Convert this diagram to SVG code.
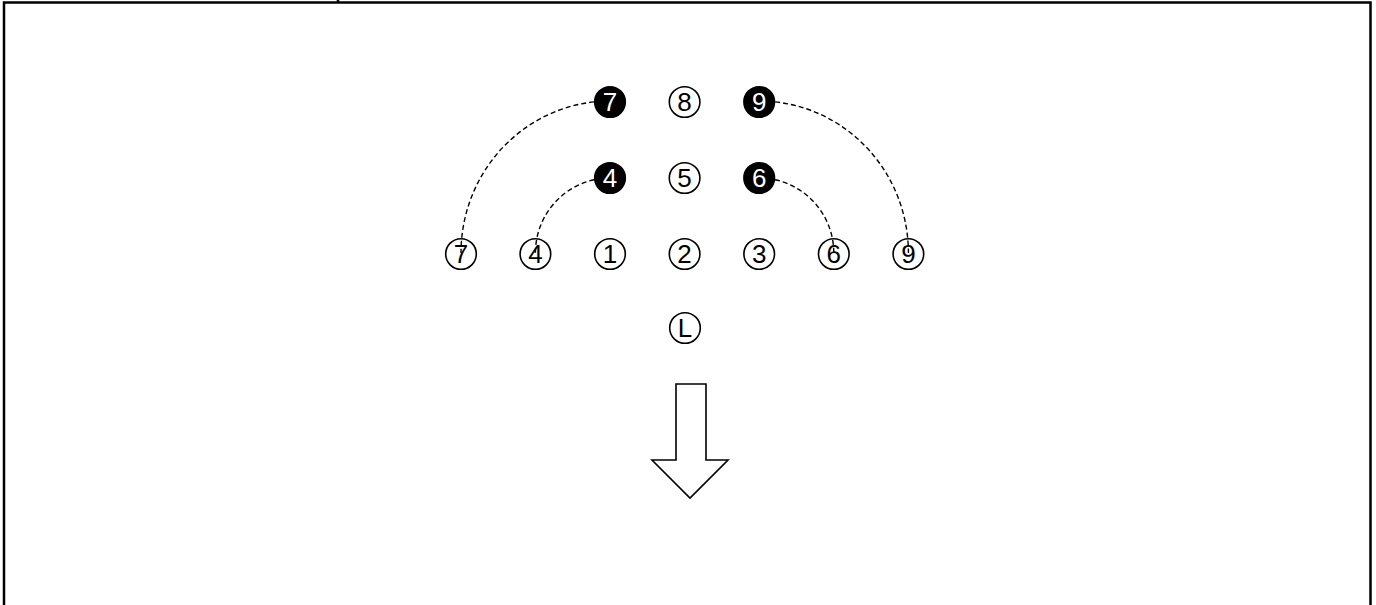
<svg xmlns="http://www.w3.org/2000/svg" width="1376" height="605" viewBox="0 0 1376 605">
<style>
.frame{stroke:#000;stroke-width:2.5;fill:none}
.arc{stroke:#000;stroke-width:1.4;fill:none;stroke-dasharray:5 3}
.o{fill:none;stroke:#000;stroke-width:1.6}
.b{fill:#000;stroke:#000;stroke-width:1.6}
.t{font-family:"Liberation Sans",Arial,sans-serif;font-size:26px;text-anchor:middle;fill:#000}
.w{font-family:"Liberation Sans",Arial,sans-serif;font-size:26px;text-anchor:middle;fill:#fff}
.arrow{fill:#fff;stroke:#000;stroke-width:1.6}
</style>
<rect width="1376" height="605" fill="#fff"/>
<g id="frame">
<path class="frame" d="M4 605 V2.5 H1370.5 V605"/>
<path class="frame" d="M338 0 V3"/>
</g>
<g id="connectors">
<path class="arc" d="M610 101 A149 152 0 0 0 461 253"/>
<path class="arc" d="M610 178 A74.6 75 0 0 0 535.4 253"/>
<path class="arc" d="M759.2 178 A74.6 75 0 0 1 833.8 253"/>
<path class="arc" d="M759.2 101 A149.2 152 0 0 1 908.4 253"/>
</g>
<g id="n7b"><circle class="b" cx="610" cy="102" r="15.3"/><text class="w" x="610" y="111.3">7</text></g>
<g id="n8"><circle class="o" cx="684.6" cy="102" r="15.3"/><text class="t" x="684.6" y="111.3">8</text></g>
<g id="n9b"><circle class="b" cx="759.2" cy="102" r="15.3"/><text class="w" x="759.2" y="111.3">9</text></g>
<g id="n4b"><circle class="b" cx="610" cy="178" r="15.3"/><text class="w" x="610" y="187.3">4</text></g>
<g id="n5"><circle class="o" cx="684.6" cy="178" r="15.3"/><text class="t" x="684.6" y="187.3">5</text></g>
<g id="n6b"><circle class="b" cx="759.2" cy="178" r="15.3"/><text class="w" x="759.2" y="187.3">6</text></g>
<g id="n7"><circle class="o" cx="461" cy="254" r="15.3"/><text class="t" x="461" y="263.3">7</text></g>
<g id="n4"><circle class="o" cx="535.4" cy="254" r="15.3"/><text class="t" x="535.4" y="263.3">4</text></g>
<g id="n1"><circle class="o" cx="610" cy="254" r="15.3"/><text class="t" x="610" y="263.3">1</text></g>
<g id="n2"><circle class="o" cx="684.6" cy="254" r="15.3"/><text class="t" x="684.6" y="263.3">2</text></g>
<g id="n3"><circle class="o" cx="759.2" cy="254" r="15.3"/><text class="t" x="759.2" y="263.3">3</text></g>
<g id="n6"><circle class="o" cx="833.8" cy="254" r="15.3"/><text class="t" x="833.8" y="263.3">6</text></g>
<g id="n9"><circle class="o" cx="908.4" cy="254" r="15.3"/><text class="t" x="908.4" y="263.3">9</text></g>
<g id="nL"><circle class="o" cx="685" cy="328" r="15.3"/><text class="t" x="685" y="337.3">L</text></g>
<g id="arrow"><path class="arrow" d="M676 384 H706 V460 H728 L690 498 L652 460 H676 Z"/></g>
</svg>
